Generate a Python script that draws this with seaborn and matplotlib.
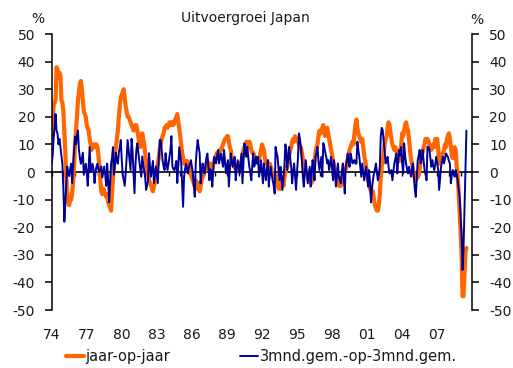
import matplotlib
matplotlib.use("Agg")
import matplotlib.pyplot as plt
import matplotlib.dates as mdates
import numpy as np
import pandas as pd
import seaborn as sns

# Japanese export growth, monthly, Jan 1974 - Jul 2009 (%)
yoy = [
    12, 18, 24, 25, 26, 38, 37, 34, 36, 35, 26, 25,          # 1974
    22, 14, 8, -2, -7, -11, -12, -10, -10, -8, -4, 2,        # 1975
    10, 15, 20, 26, 29, 32, 33, 30, 26, 22, 21, 20,          # 1976
    17, 16, 15, 12, 10, 8, 9, 10, 10, 9, 10, 9,              # 1977
    6, 2, -3, -7, -8, -6, -7, -8, -9, -8, -11, -12,          # 1978
    -13, -14, -8, -2, 4, 7, 9, 12, 15, 20, 24, 27,           # 1979
    28, 29, 30, 27, 24, 22, 20, 20, 19, 18, 17, 16,          # 1980
    15, 16, 17, 17, 15, 13, 10, 9, 11, 14, 12, 10,           # 1981
    7, 4, 1, -1, -3, -4, -5, -6, -7, -5, -4, -1,             # 1982
    1, 3, 5, 8, 10, 12, 13, 14, 16, 16, 17, 16,              # 1983
    17, 18, 18, 17, 18, 17, 18, 19, 20, 21, 18, 16,          # 1984
    13, 10, 7, 5, 3, 4, 3, 4, 3, 2, 0, -1,                   # 1985
    -2, -3, -4, -5, -3, -6, -5, -4, -7, -5, -3, -2,          # 1986
    -1, 0, 1, 3, 4, 2, 1, 3, 2, 1, 3, 4,                     # 1987
    5, 6, 7, 6, 7, 8, 8, 9, 10, 11, 12, 12,                  # 1988
    13, 13, 11, 9, 8, 5, 3, 2, 2, 1, 2, 2,                   # 1989
    3, 2, 3, 4, 6, 8, 9, 10, 11, 10, 10, 11,                 # 1990
    10, 8, 7, 7, 6, 5, 4, 5, 4, 5, 6, 8,                     # 1991
    10, 9, 8, 5, 3, 4, 3, 2, 3, 2, 0, -1,                    # 1992
    -1, -2, -1, -3, -4, -6, -5, -6, -4, -3, -5, -2,          # 1993
    0, 1, 2, 4, 6, 8, 9, 11, 12, 11, 13, 12,                 # 1994
    12, 11, 10, 9, 9, 7, 5, 2, 1, 0, -1, -2,                 # 1995
    -3, -2, -3, -4, -3, 1, 4, 7, 9, 10, 13, 15,              # 1996
    14, 15, 16, 17, 14, 13, 15, 16, 14, 12, 10, 8,           # 1997
    6, 4, 2, 1, -1, -3, -2, -5, -4, -5, -3, -1,              # 1998
    0, 1, 1, 2, 4, 6, 8, 9, 10, 11, 10, 14,                  # 1999
    17, 19, 16, 14, 13, 12, 11, 12, 9, 6, 4, 2,              # 2000
    -1, -3, -4, -6, -7, -8, -7, -10, -12, -13, -14, -14,     # 2001
    -12, -8, -2, 2, 4, 7, 10, 12, 13, 16, 18, 17,            # 2002
    14, 12, 10, 9, 8, 9, 8, 6, 5, 4, 7, 10,                  # 2003
    14, 13, 15, 17, 18, 16, 15, 12, 8, 5, 3, 1,              # 2004
    -1, -2, -3, -1, -2, -1, 1, 4, 6, 7, 9, 10,               # 2005
    12, 11, 12, 11, 10, 9, 8, 9, 10, 9, 12, 11,              # 2006
    12, 8, 3, 4, 5, 6, 7, 8, 10, 9, 12, 13,                  # 2007
    14, 12, 9, 6, 5, 7, 9, 8, 2, -1, -8, -15,                # 2008
    -22, -30, -45, -45, -37, -29, -27.5,                     # 2009
]

qoq = [
    3, 6, 12, 16, 21, 15, 14, 10, 12, 9, 6, 3,               # 1974
    -6, -18, -12, -4, 2, 0, -1.5, 1, 3, -4, 2, 8,            # 1975
    12.8, 10, 13, 15, 8, 5, 3, 5, 7, -1, 1, 3,               # 1976
    0, -5, 2, 9, 0, 1, 3, 1, -4, 0, 2, 3,                    # 1977
    1, 0, 1, 2, -2, 0, 2, -1, -5, 3, -3, -11,                # 1978
    -4, 3, 5, 9, -1, 2, 7, 4, 3, 7, 9, 11.6,                 # 1979
    4, -1, -3, -5, -0.5, 5, 11.6, 8, 4, 0.7, 12, 8,          # 1980
    0, -7.7, 2, 8, 10.4, 7, 4, 1, -1.7, 5.6, 3, 0.7,         # 1981
    -2, -6.5, -5, -3, 6.8, 2, -1.7, 1, 4, -4, -1, 2,         # 1982
    -1, -4, 4, 11.6, 11.6, 8, 4, 2, 0.7, 6.8, 3, 0.7,        # 1983
    3, 5.6, 8, 13, 2, 1, 0.7, 2, 4, -4, 2, 9,                # 1984
    6, 3, -4, -12.6, -1.7, 1, 3, 1, -0.5, 1.9, 3, 4.3,       # 1985
    2, -0.5, -5, -9, 3.1, 8, 11.6, 9, 6.7, -4.1, 0, 3.1,     # 1986
    1, -0.5, 2, 5.5, 6.7, 2, -3, 1, -0.5, -5.3, 1, 5.5,      # 1987
    4, 3.1, 6, 8, 3.1, 5, 6.7, 4, 1.9, 8, 4, -0.5,           # 1988
    2, 4.3, -5.3, 1, 6.7, 4, 1.9, 4, 5.5, -3, 1, 4.3,        # 1989
    2, -0.5, 3, 6.7, -4.1, 3, 10.4, 7, 5.5, 9.1, 5, 1.9,     # 1990
    0, -3, 2, 6.7, 1.9, 3, 5.5, 3, 5.5, -1.7, 1, 4.3,        # 1991
    0, -4.1, 3.1, 0, -3, 1, 4.3, -5.3, -1, 1.9, -1, -3,      # 1992
    -5, -7.8, 9.1, 7, 5.5, 1, -3, 1.9, -2, -6.5, -2, 1.9,    # 1993
    10, 8, 0.7, 5, 9.1, 5, 1.9, -4.1, 0, 3.1, -2, -6.5,      # 1994
    0, 5.5, 14, 12, 9.1, 4, -1.7, -5.3, 0, 4.3, 0, -4.1,     # 1995
    -1, 1.9, -5.3, 0, 4.3, 1, -3, 5.5, 7, 9.1, 4, 0.7,       # 1996
    3, 5.5, -1.7, 10.5, 9.1, 7, 5.5, 3.1, 4.3, 0.7, 3, 5.5,  # 1997
    1, -3, 4.3, 0, -5.3, -1, 3.1, -1.7, -3, -4.1, 0, 3.1,    # 1998
    -2, -7.8, 1.9, 4, 6.7, 4, 1.9, 6.7, 5, 3.1, 4, 4.3,      # 1999
    3, 3.1, 11, 8, 5.5, 2, -1.7, 3.1, 0, -3, 0, 1.9,         # 2000
    -2, -5.3, 0.7, -4, -11, -6, -3, -0.5, 1, 3.1, 0, -3,     # 2001
    -1, 1.9, 12.8, 16, 15.2, 11, 8, 3.1, 4, 5.5, 2, -0.5,    # 2002
    0, 0.7, -3, 0, 3.1, 5, 6.7, -0.5, 4.3, 8, 6, 9.1,        # 2003
    3, -0.5, 10.4, 6, 3.1, 1, -0.5, 1.9, 0, -1.7, 1, 3.1,    # 2004
    -2, -6.5, -9, -2, 4.3, 6, 8, 3.1, 5, 8, 4, 0.7,          # 2005
    -1, -3, 9.1, 9, 8, 5, 1.9, 4.3, 2, 0.7, 3, 5.5,          # 2006
    3, 0.7, -6.5, -2, 1.9, 4, 5.5, 3.1, 5, 6.7, 6, 5.5,      # 2007
    4, 3.1, -4.1, -1, 0.7, -1, -1.7, 0.7, -1, -3, -6, -9,    # 2008
    -16, -23.5, -35.5, -28, -14, 1, 15,                      # 2009
]

series_names = ["jaar-op-jaar", "3mnd.gem.-op-3mnd.gem."]
series_colors = ["#FF6600", "#000099"]
year_labels = ["74", "77", "80", "83", "86", "89", "92", "95", "98", "01", "04", "07"]
y_ticks = list(range(-50, 51, 10))

dates = pd.date_range("1974-01-01", periods=len(yoy), freq="MS")
df = pd.DataFrame({"datum": dates, series_names[0]: yoy, series_names[1]: qoq})

sns.set_style("white")
plt.rcParams["font.family"] = ["DejaVu Sans"]
plt.rcParams["axes.unicode_minus"] = False
txt = "#1a1a1a"

W, H = 513, 368
fig = plt.figure(figsize=(W / 100, H / 100), dpi=100)
ax = fig.add_axes([51.7 / W, 1 - 310 / H, (472.3 - 51.7) / W, 276 / H])

sns.lineplot(data=df, x="datum", y=series_names[0], color=series_colors[0],
             lw=3.0, ax=ax, label=series_names[0], zorder=2)
sns.lineplot(data=df, x="datum", y=series_names[1], color=series_colors[1],
             lw=1.4, ax=ax, label=series_names[1], zorder=3)
handles, labels = ax.get_legend_handles_labels()
ax.get_legend().remove()

ax.set_xlim(pd.Timestamp("1974-01-01"), pd.Timestamp("2010-01-01"))
ax.set_ylim(-50, 50)
ax.set_yticks(y_ticks)
ax.set_yticklabels([str(v) for v in y_ticks])
ax.set_xlabel("")
ax.set_ylabel("")

label_dates = [pd.Timestamp(f"{1974 + 3 * i}-01-01") for i in range(len(year_labels))]
ax.set_xticks(label_dates)
ax.set_xticklabels(year_labels)
ax.tick_params(axis="x", length=0, pad=13, labelsize=10, labelcolor=txt)
ax.tick_params(axis="y", left=True, direction="out", length=5, width=1.1,
               pad=7, labelsize=10, labelcolor=txt, color="black")

for side in ["top", "bottom", "right"]:
    ax.spines[side].set_visible(False)
ax.spines["left"].set_color("black")
ax.spines["left"].set_linewidth(1.1)

# right-hand axis with the same scale
ax2 = ax.twinx()
ax2.set_ylim(-50, 50)
ax2.set_yticks(y_ticks)
ax2.set_yticklabels([str(v) for v in y_ticks])
ax2.tick_params(axis="y", right=True, direction="out", length=5, width=1.1,
                pad=7, labelsize=10, labelcolor=txt, color="black")
for side in ["top", "bottom", "left"]:
    ax2.spines[side].set_visible(False)
ax2.spines["right"].set_color("black")
ax2.spines["right"].set_linewidth(1.1)
ax2.grid(False)

# zero line with yearly tick marks
zero = ax.secondary_xaxis(0.5)
year_ticks = mdates.date2num([pd.Timestamp(f"{y}-01-01") for y in range(1974, 2010)])
zero.set_xticks(year_ticks)
zero.tick_params(axis="x", direction="in", length=3, width=1.0, color="black",
                 labeltop=False, labelbottom=False)
for s in zero.spines.values():
    s.set_color("black")
    s.set_linewidth(1.2)

fig.text(245 / W, 1 - 18 / H, "Uitvoergroei Japan", ha="center", va="center",
         fontsize=10, color=txt)
fig.text(38 / W, 1 - 19 / H, "%", ha="center", va="center", fontsize=10, color=txt)
fig.text(477 / W, 1 - 20 / H, "%", ha="center", va="center", fontsize=10, color=txt)

fig.legend(handles, labels, loc="center left", bbox_to_anchor=(66 / W, 1 - 357 / H),
           ncol=2, frameon=False, fontsize=10.5, handlelength=1.2,
           handletextpad=0.15, columnspacing=4.8, borderpad=0, borderaxespad=0,
           labelcolor=txt)

fig.savefig("out.png", dpi=100)
